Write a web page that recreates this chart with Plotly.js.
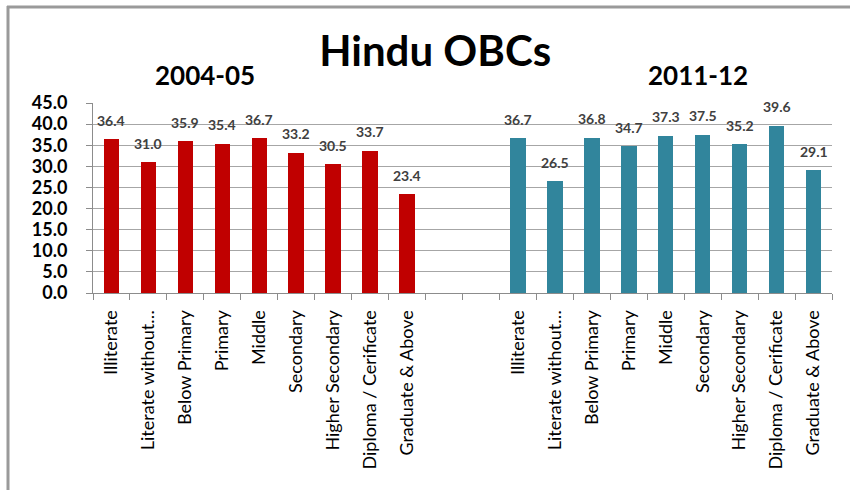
<!DOCTYPE html>
<html>
<head>
<meta charset="utf-8">
<script src="https://cdn.plot.ly/plotly-3.0.1.min.js"></script>
<style>html,body{margin:0;padding:0;background:#fff;}#chart{width:850px;height:490px;}</style>
</head>
<body>
<div id="chart"></div>
<script>
// ---- data ----
const categories = ["Illiterate", "Literate without\u2026", "Below Primary", "Primary", "Middle",
  "Secondary", "Higher Secondary", "Diploma / Cerificate", "Graduate & Above"];
const periods = ["2004-05", "2011-12"];
const values2004 = [36.4, 31.0, 35.9, 35.4, 36.7, 33.2, 30.5, 33.7, 23.4];
const values2011 = [36.7, 26.5, 36.8, 34.7, 37.3, 37.5, 35.2, 39.6, 29.1];
const yTicks = [0, 5, 10, 15, 20, 25, 30, 35, 40, 45];
const chartTitle = "Hindu OBCs";

// ---- layout helpers ----
const GAP = 2; // empty category slots between the two groups
const n = categories.length;
const xLeft = categories.map((c, i) => i);
const xRight = categories.map((c, i) => i + n + GAP);
const total = 2 * n + GAP;
const boundaries = [];
for (let i = 0; i <= total; i++) boundaries.push(i - 0.5);

const FONT = "Lato, 'Open Sans', sans-serif";
const colors = ["#C00000", "#31859C"];

const traces = [
  {type: "bar", x: xLeft, y: values2004, name: periods[0], width: 0.42,
   marker: {color: colors[0]}, hoverinfo: "y"},
  {type: "bar", x: xRight, y: values2011, name: periods[1], width: 0.42,
   marker: {color: colors[1]}, hoverinfo: "y"}
];

const annotations = [];
[[xLeft, values2004], [xRight, values2011]].forEach(([xs, vs]) => {
  xs.forEach((x, i) => annotations.push({
    x: x, y: vs[i], xref: "x", yref: "y", text: vs[i].toFixed(1),
    showarrow: false, yanchor: "middle", yshift: 19,
    font: {family: FONT, size: 14, color: "#404040", weight: 700}
  }));
});
// period labels
annotations.push({x: 2.53, y: 1, xref: "x", yref: "paper", yshift: 10,
  text: "<b>" + periods[0] + "</b>", showarrow: false, yanchor: "bottom",
  font: {family: FONT, size: 26, color: "#000"}});
annotations.push({x: 15.87, y: 1, xref: "x", yref: "paper", yshift: 10,
  text: "<b>" + periods[1] + "</b>", showarrow: false, yanchor: "bottom",
  font: {family: FONT, size: 26, color: "#000"}});

const L = 93, R = 18, T = 103, B = 197, W = 850, H = 490;
const pw = W - L - R, ph = H - T - B;
const px = v => (v - L) / pw;
const py = v => (H - B - v) / ph;

const layout = {
  width: W, height: H,
  margin: {l: L, r: R, t: T, b: B, pad: 0},
  paper_bgcolor: "#fff", plot_bgcolor: "#fff",
  showlegend: false,
  bargap: 0,
  title: {text: "<b>" + chartTitle + "</b>", font: {family: FONT, size: 42, color: "#000"},
          x: 0.512, xanchor: "center", y: 0.895, yanchor: "middle", yref: "container"},
  xaxis: {
    range: [-0.5, total - 0.5], fixedrange: true,
    tickmode: "array", tickvals: xLeft.concat(xRight), ticktext: categories.concat(categories),
    tickangle: -90, ticks: "", ticklabelstandoff: 9,
    tickfont: {family: FONT, size: 18, color: "#000"},
    showgrid: false, zeroline: false,
    showline: true, linecolor: "#8c8c8c", linewidth: 1,
    minor: {tickmode: "array", tickvals: boundaries, ticks: "outside", ticklen: 6,
            tickcolor: "#8c8c8c", tickwidth: 1, showgrid: false}
  },
  yaxis: {
    range: [0, 45], fixedrange: true,
    tickmode: "array", tickvals: yTicks, ticktext: yTicks.map(v => v.toFixed(1)),
    ticks: "outside", ticklen: 6, tickcolor: "#8c8c8c",
    ticklabelstandoff: 15,
    tickfont: {family: FONT, size: 18, color: "#000", weight: 700},
    showgrid: true, gridcolor: "#a6a6a6", gridwidth: 1,
    zeroline: false, showline: true, linecolor: "#8c8c8c", linewidth: 1
  },
  annotations: annotations,
  shapes: [
    {type: "line", xref: "paper", yref: "paper", x0: px(7), x1: px(852), y0: py(7), y1: py(7),
     line: {color: "#9a9a9a", width: 3}},
    {type: "line", xref: "paper", yref: "paper", x0: px(8), x1: px(8), y0: py(6), y1: py(495),
     line: {color: "#9a9a9a", width: 3}}
  ]
};

Plotly.newPlot("chart", traces, layout, {displayModeBar: false, staticPlot: true});
</script>
</body>
</html>
